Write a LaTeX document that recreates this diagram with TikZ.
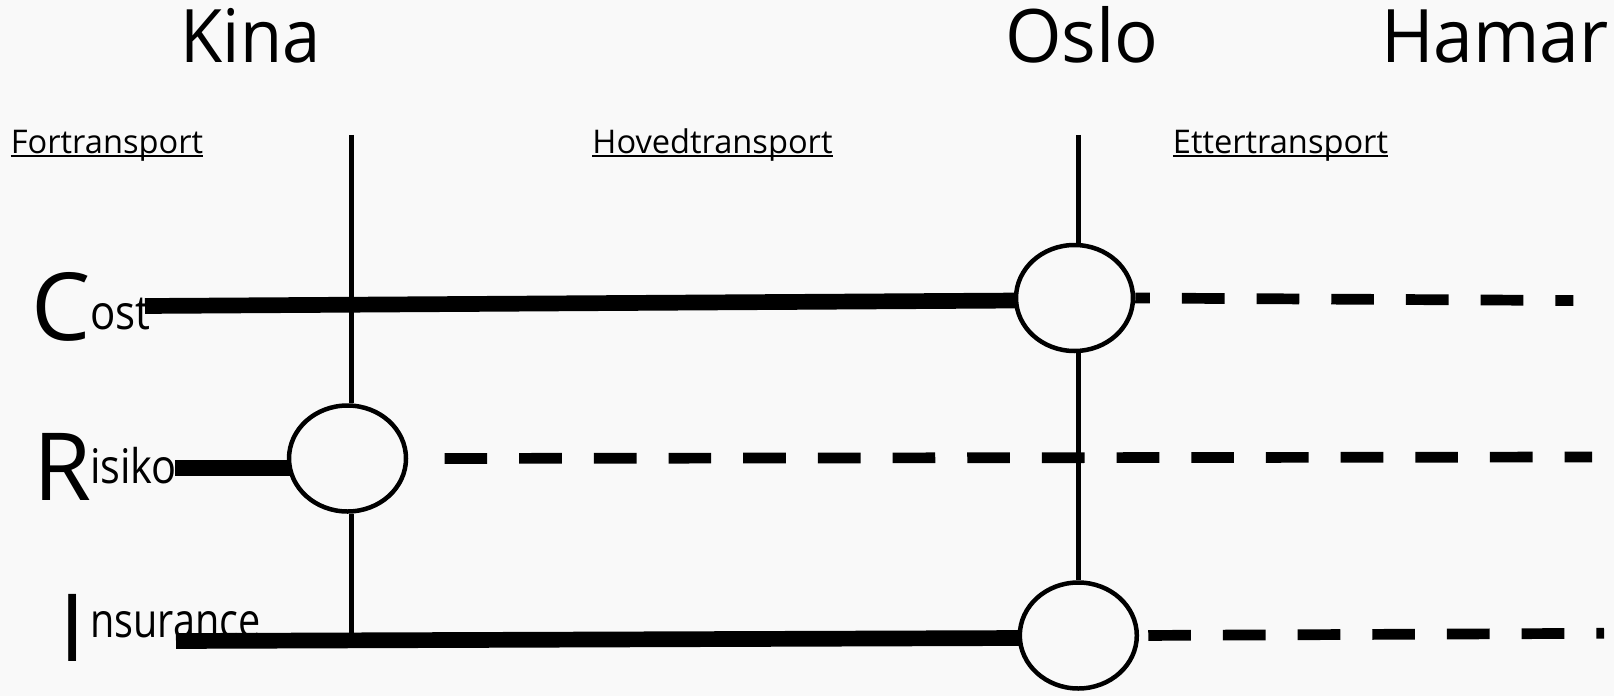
\documentclass[tikz,border=0pt]{standalone}
\usepackage{graphicx}
\usepackage{fontspec}
\setmainfont{Open Sans}
\usetikzlibrary{shapes.geometric,backgrounds}
\definecolor{bg}{HTML}{F9F9F9}
\newcommand{\hsc}[2]{\scalebox{#1}[1]{#2}}
\begin{document}
\begin{tikzpicture}[x=1pt,y=-1pt,
  title/.style={inner sep=0pt, anchor=base, font=\fontsize{73.8}{80}\selectfont},
  phase/.style={inner sep=0pt, anchor=base, font=\fontsize{32.6}{36}\selectfont},
  big/.style={inner sep=0pt, anchor=base west, font=\fontsize{94}{100}\selectfont},
  small/.style={inner sep=0pt, anchor=base west, font=\fontsize{47.7}{52}\selectfont},
  hub/.style={draw, ellipse, line width=4.5pt, fill=bg, minimum width=117pt, minimum height=106pt, inner sep=0pt},
  thickline/.style={line width=15.7pt},
  dashline/.style={line width=10.7pt, dash pattern=on 42.67pt off 32pt},
  axis/.style={line width=4.5pt},
  uline/.style={line width=2pt}
]
\useasboundingbox (0,0) rectangle (1614,696);
% titles
\node[title] (kina) at (250.5,62.7) {\hsc{0.93}{Kina}};
\node[title] (oslo) at (1082,62.7) {\hsc{0.985}{Oslo}};
\node[title] (hamar) at (1495,62.7) {\hsc{0.967}{Hamar}};
% phases
\node[phase] (fort) at (107,153.3) {Fortransport};
\node[phase] (hoved) at (712.5,153.3) {Hovedtransport};
\node[phase] (etter) at (1280.5,153.3) {Ettertransport};
\draw[uline] ([yshift=-2.7pt]fort.base west) -- ([yshift=-2.7pt]fort.base east);
\draw[uline] ([yshift=-2.7pt]hoved.base west) -- ([yshift=-2.7pt]hoved.base east);
\draw[uline] ([yshift=-2.7pt]etter.base west) -- ([yshift=-2.7pt]etter.base east);
% row labels
\node[big] (C) at (31.5,340) {C};
\node[small] (ost) at (90,329) {\hsc{0.88}{ost}};
\node[big] (R) at (33,500) {R};
\node[small] (isiko) at (90,483) {\hsc{0.87}{isiko}};
\node[big] (I) at (59,661) {I};
\node[small] (nsur) at (90,637) {\hsc{0.83}{nsurance}};
% hubs
\node[hub] (risk) at (347.5,458.5) {};
\node[hub] (osl1) at (1074.5,298) {};
\node[hub] (osl2) at (1078.3,635.5) {};
% free ends
\coordinate (kt) at (351.5,134.8);
\coordinate (kb) at (351.5,633);
\coordinate (ot) at (1078.3,134.8);
\coordinate (c0) at (145,306);
\coordinate (r0) at (175,468);
\coordinate (i0) at (176,641);
\coordinate (ce) at (1573.3,300.5);
\coordinate (me) at (1592,457);
\coordinate (ie) at (1604,633.3);
\begin{scope}[on background layer]
\fill[bg] (0,0) rectangle (1614,696);
\draw[axis] (kt) -- (kt |- risk.north);
\draw[axis] (kt |- risk.south) -- (kb);
\draw[axis] (ot) -- (ot |- osl1.north);
\draw[axis] (ot |- osl1.south) -- (ot |- osl2.north);
\draw[thickline] (c0) -- ([yshift=-2.5pt,xshift=5pt]osl1.west);
\draw[thickline] (r0) -- ([yshift=-9.5pt,xshift=5pt]risk.west);
\draw[thickline] (i0) -- ([yshift=-2.5pt,xshift=5pt]osl2.west);
\draw[dashline, dash phase=28pt] (osl1.east) -- (ce);
\draw[dashline, shorten <=36.3pt] (risk.east) -- (me);
\draw[dashline, shorten <=9.2pt] (osl2.east) -- (ie);
\end{scope}
\end{tikzpicture}
\end{document}
